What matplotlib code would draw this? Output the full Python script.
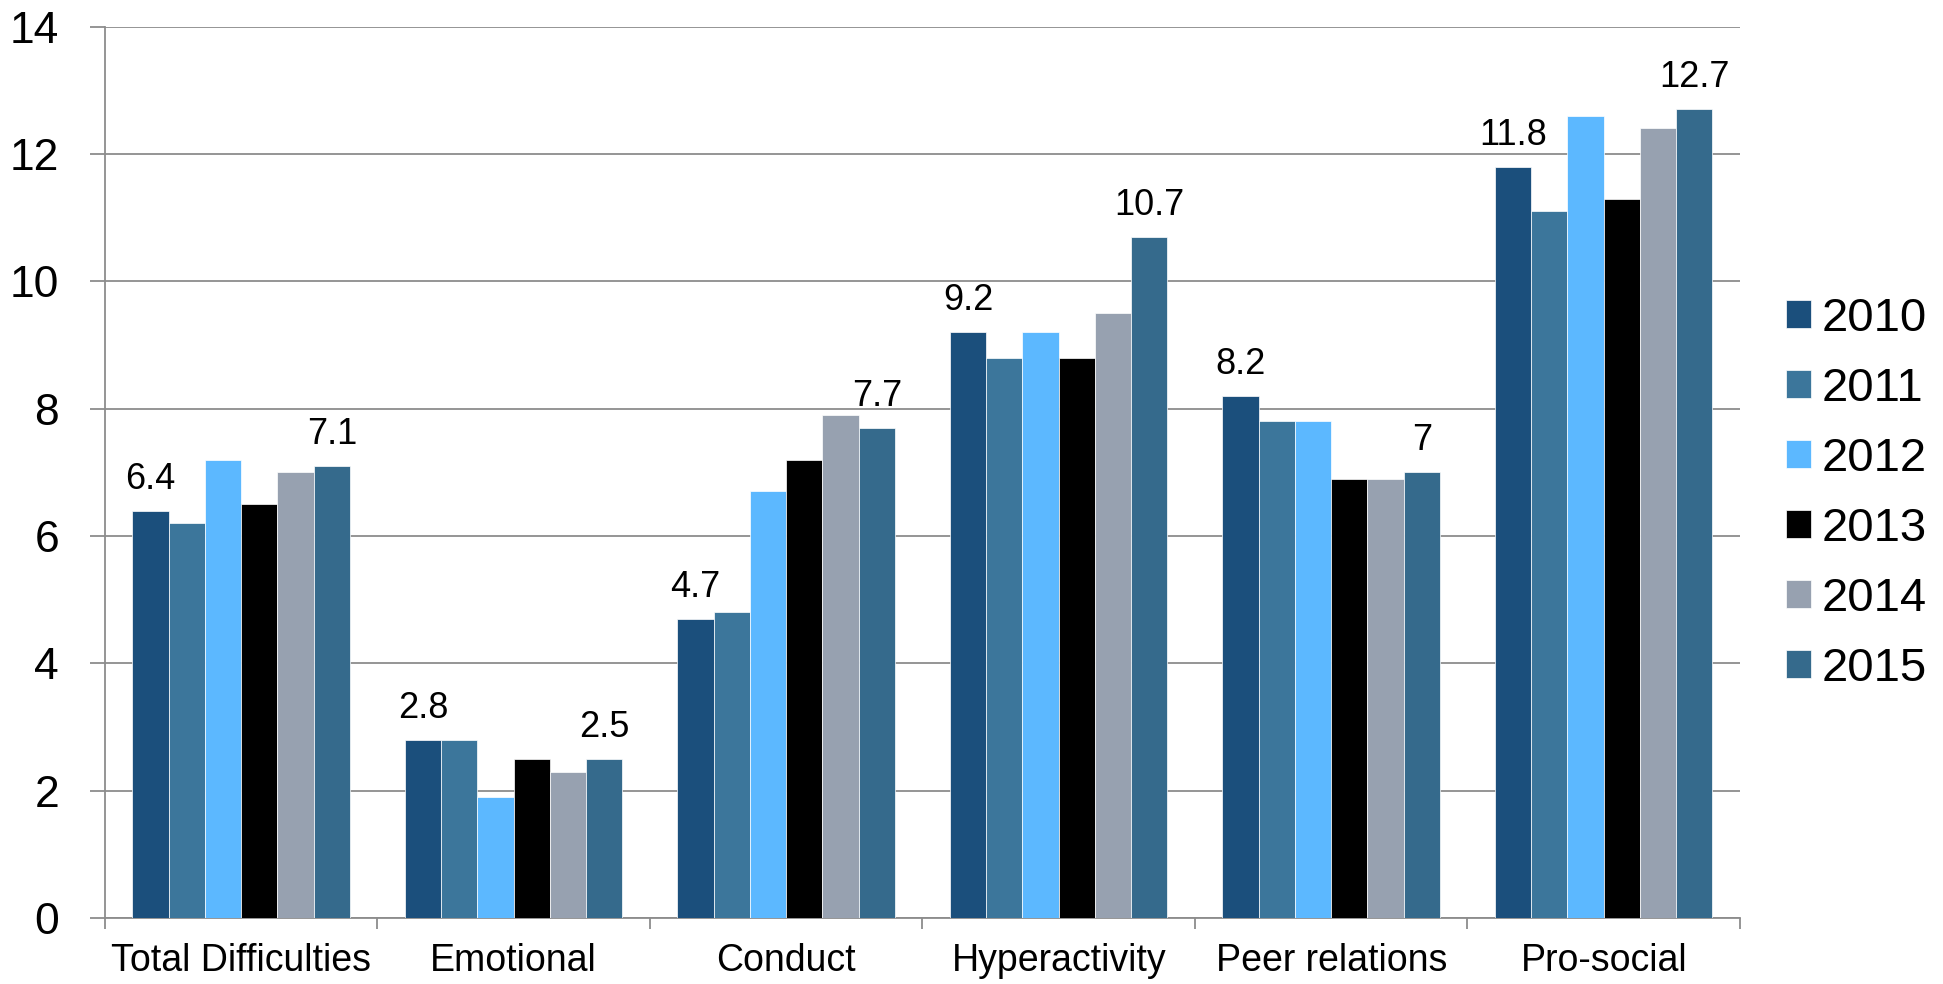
import matplotlib
matplotlib.use('Agg')
import matplotlib.pyplot as plt
import numpy as np

plt.rcParams['font.family'] = ['Liberation Sans', 'DejaVu Sans']

categories = ["Total Difficulties", "Emotional", "Conduct", "Hyperactivity",
              "Peer relations", "Pro-social"]
years = ["2010", "2011", "2012", "2013", "2014", "2015"]

v2010 = [6.4, 2.8, 4.7, 9.2, 8.2, 11.8]
v2011 = [6.2, 2.8, 4.8, 8.8, 7.8, 11.1]
v2012 = [7.2, 1.9, 6.7, 9.2, 7.8, 12.6]
v2013 = [6.5, 2.5, 7.2, 8.8, 6.9, 11.3]
v2014 = [7.0, 2.3, 7.9, 9.5, 6.9, 12.4]
v2015 = [7.1, 2.5, 7.7, 10.7, 7.0, 12.7]
series = [v2010, v2011, v2012, v2013, v2014, v2015]

colors = ["#1b4f7c", "#3c769b", "#5cb8ff", "#000000", "#97a1b0", "#356a8c"]

fig = plt.figure(figsize=(19.43, 9.84), dpi=100)
ax = fig.add_axes([0.054, 0.067, 0.8415, 0.906])

x = np.arange(len(categories))
w = 0.133
for i, vals in enumerate(series):
    pos = x + (i - 2.5) * w
    bars = ax.bar(pos, vals, w, color=colors[i], label=years[i],
                  edgecolor='white', linewidth=0.5, zorder=3)
    # only first and last year get value labels
    if i in (0, len(series) - 1):
        for b, v in zip(bars, vals):
            ax.text(b.get_x() + b.get_width() / 2, v + 0.22, f"{v:g}",
                    ha='center', va='bottom', fontsize=26)

ax.set_xlim(-0.5, len(categories) - 0.5)
ax.set_ylim(0, 14)
ax.set_yticks(range(0, 15, 2))
ax.yaxis.grid(True, color='#8c8c8c', linewidth=1.3, zorder=0)
ax.tick_params(axis='y', labelsize=32, length=11, width=1.3, color='#8c8c8c', pad=22)

ax.set_xticks(x)
ax.set_xticklabels(categories, fontsize=27)
ax.tick_params(axis='x', which='major', length=0, pad=18)
ax.set_xticks(np.arange(-0.5, len(categories) + 0.5, 1), minor=True)
ax.tick_params(axis='x', which='minor', length=8, width=1.3, color='#8c8c8c')

for s in ['top', 'right']:
    ax.spines[s].set_visible(False)
for s in ['left', 'bottom']:
    ax.spines[s].set_color('#8c8c8c')
    ax.spines[s].set_linewidth(1.3)

ax.legend(loc='center left', bbox_to_anchor=(1.028, 0.476), frameon=False,
          fontsize=34, handlelength=0.53, handleheight=0.53, handletextpad=0.24,
          labelspacing=0.55, borderaxespad=0, borderpad=0)

plt.savefig("out.png", dpi=100)
